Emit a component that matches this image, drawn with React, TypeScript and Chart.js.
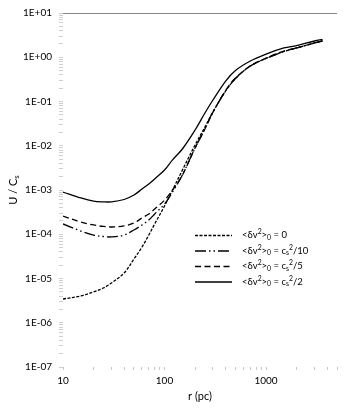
import React, { useEffect, useRef } from 'react';
import { Chart, registerables } from 'chart.js';

Chart.register(...registerables);

// r (pc)
const radii = [10, 15, 20, 25, 30, 40, 50, 60, 70, 80, 100, 120, 150, 200, 250, 300, 400, 500, 700, 1000, 1500, 2000, 3000, 3600];
// U / Cs for <δv²>0 = 0
const uZero = [3.44e-6, 4.03e-6, 4.96e-6, 6.1e-6, 7.9e-6, 1.33e-5, 2.76e-5, 5.15e-5, 9.6e-5, 1.71e-4, 4.35e-4, 1.0e-3, 2.83e-3, 1.04e-2, 2.66e-2, 5.8e-2, 0.173, 0.331, 0.634, 0.938, 1.35, 1.62, 2.10, 2.33];
// <δv²>0 = cs²/10
const uTenth = [1.71e-4, 1.18e-4, 9.6e-5, 8.9e-5, 8.7e-5, 9.6e-5, 1.25e-4, 1.62e-4, 2.1e-4, 2.87e-4, 4.83e-4, 9.0e-4, 2.18e-3, 8.9e-3, 2.39e-2, 5.8e-2, 0.173, 0.331, 0.634, 0.938, 1.35, 1.62, 2.10, 2.33];
// <δv²>0 = cs²/5
const uFifth = [2.58e-4, 1.89e-4, 1.62e-4, 1.5e-4, 1.46e-4, 1.54e-4, 1.8e-4, 2.33e-4, 2.87e-4, 3.72e-4, 5.9e-4, 1.0e-3, 2.18e-3, 8.9e-3, 2.39e-2, 5.7e-2, 0.178, 0.34, 0.634, 0.96, 1.38, 1.62, 2.10, 2.33];
// <δv²>0 = cs²/2
const uHalf = [9.0e-4, 6.6e-4, 5.6e-4, 5.4e-4, 5.4e-4, 6.1e-4, 7.7e-4, 1.05e-3, 1.37e-3, 1.78e-3, 2.83e-3, 4.8e-3, 8.45e-3, 2.27e-2, 5.5e-2, 0.108, 0.29, 0.502, 0.822, 1.18, 1.62, 1.84, 2.33, 2.52];

const seriesLabels = ['<δv²>₀ = 0', '<δv²>₀ = cₛ²/10', '<δv²>₀ = cₛ²/5', '<δv²>₀ = cₛ²/2'];
const seriesValues = [uZero, uTenth, uFifth, uHalf];
const seriesDash = [[3, 1.5], [11, 3, 1.5, 3, 1.5, 3], [6, 3.5], []];

const xTitle = 'r (pc)';
const yTitle = 'U / Cₛ';
const xMin = 10;
const xMax = 5000;
const yMin = 1e-7;
const yMax = 10;

const FONT = 'Lato, "Open Sans", sans-serif';

type Part = [string, number];
function parseRich(s: string): Part[] {
  const map: Record<string, [string, number]> = {
    '²': ['2', 1],
    '₀': ['0', -1],
    'ₛ': ['s', -1],
  };
  const parts: Part[] = [];
  for (const ch of s) {
    const m = map[ch];
    const t = m ? m[0] : ch;
    const mode = m ? m[1] : 0;
    const last = parts[parts.length - 1];
    if (last && last[1] === mode) last[0] += t;
    else parts.push([t, mode]);
  }
  return parts;
}

function richWidth(ctx: CanvasRenderingContext2D, parts: Part[], size: number) {
  let w = 0;
  for (const [t, m] of parts) {
    ctx.font = `${m === 0 ? size : size * 0.72}px ${FONT}`;
    w += ctx.measureText(t).width;
  }
  return w;
}

function drawRich(ctx: CanvasRenderingContext2D, x: number, y: number, parts: Part[], size: number) {
  let cx = x;
  for (const [t, m] of parts) {
    ctx.font = `${m === 0 ? size : size * 0.72}px ${FONT}`;
    const dy = m === 1 ? -size * 0.3 : m === -1 ? size * 0.28 : 0;
    ctx.fillText(t, cx, y + dy);
    cx += ctx.measureText(t).width;
  }
}

function logTicks(min: number, max: number) {
  const out: { value: number }[] = [];
  const e0 = Math.floor(Math.log10(min));
  const e1 = Math.ceil(Math.log10(max));
  for (let e = e0; e <= e1; e++) {
    for (let m = 1; m <= 9; m++) {
      const v = Number((m * Math.pow(10, e)).toPrecision(3));
      if (v >= min * 0.999 && v <= max * 1.001) out.push({ value: v });
    }
  }
  return out;
}

const isPow10 = (v: number) => Math.abs(Math.log10(v) - Math.round(Math.log10(v))) < 1e-6;

const overlayPlugin = {
  id: 'overlay',
  afterDraw(chart: any) {
    const ctx: CanvasRenderingContext2D = chart.ctx;
    const area = chart.chartArea;
    ctx.save();
    ctx.fillStyle = '#000';
    ctx.textBaseline = 'middle';
    ctx.textAlign = 'left';
    // legend
    const lx = area.left + 132;
    const ly = area.top + 222;
    chart.data.datasets.forEach((ds: any, i: number) => {
      const y = ly + i * 15.5;
      ctx.beginPath();
      ctx.setLineDash(ds.borderDash || []);
      ctx.lineWidth = 1.3;
      ctx.strokeStyle = '#000';
      ctx.moveTo(lx, y + 0.5);
      ctx.lineTo(lx + 37, y + 0.5);
      ctx.stroke();
      ctx.setLineDash([]);
      drawRich(ctx, lx + 47, y, parseRich(ds.label), 9.5);
    });
    // y title
    const parts = parseRich(yTitle);
    ctx.translate(13, (area.top + area.bottom) / 2);
    ctx.rotate(-Math.PI / 2);
    const w = richWidth(ctx, parts, 11);
    drawRich(ctx, -w / 2, 0, parts, 11);
    ctx.restore();
  },
};

export default function App() {
  const ref = useRef<HTMLCanvasElement>(null);
  useEffect(() => {
    if (!ref.current) return;
    const chart = new Chart(ref.current, {
      type: 'line',
      data: {
        datasets: seriesLabels.map((label, i) => ({
          label,
          data: radii.map((r, j) => ({ x: r, y: seriesValues[i][j] })),
          borderColor: '#000',
          borderWidth: 1.3,
          borderDash: seriesDash[i],
          pointRadius: 0,
          fill: false,
          tension: 0.35,
        })),
      },
      options: {
        animation: false,
        responsive: false,
        devicePixelRatio: 1,
        layout: { padding: { top: 13, right: 22, left: 0, bottom: 0 } },
        plugins: { legend: { display: false }, tooltip: { enabled: false } },
        scales: {
          x: {
            type: 'logarithmic',
            min: xMin,
            max: xMax,
            afterBuildTicks: (s: any) => { s.ticks = logTicks(xMin, xMax); },
            afterFit: (s: any) => { s.height = 43; },
            border: { display: false },
            grid: {
              drawOnChartArea: false,
              tickColor: '#c8c8c8',
              tickLength: 3,
            },
            ticks: {
              autoSkip: false,
              maxRotation: 0,
              padding: 5,
              color: '#000',
              font: { family: FONT, size: 10 },
              callback: (v: any) => (isPow10(Number(v)) ? String(Math.round(Number(v))) : ''),
            },
            title: {
              display: true,
              text: xTitle,
              color: '#000',
              font: { family: FONT, size: 11 },
              padding: { top: 0, bottom: 7 },
            },
          },
          y: {
            type: 'logarithmic',
            min: yMin,
            max: yMax,
            afterBuildTicks: (s: any) => { s.ticks = logTicks(yMin, yMax); },
            afterFit: (s: any) => { s.width = 63; },
            border: { display: false },
            grid: {
              color: (c: any) => (c.tick && Math.abs(c.tick.value - yMax) < 1e-9 ? '#878787' : 'rgba(0,0,0,0)'),
              tickColor: '#cfcfcf',
              tickLength: 4,
            },
            ticks: {
              autoSkip: false,
              padding: 7,
              color: '#000',
              font: { family: FONT, size: 10 },
              callback: (v: any) => {
                const n = Number(v);
                if (!isPow10(n)) return '';
                const e = Math.round(Math.log10(n));
                const a = Math.abs(e);
                return '1E' + (e < 0 ? '-' : '+') + (a < 10 ? '0' : '') + a;
              },
            },
          },
        },
      },
      plugins: [overlayPlugin],
    });
    return () => chart.destroy();
  }, []);
  return (
    <div style={{ position: 'fixed', left: 0, top: 0, width: 359, height: 410, background: '#fff' }}>
      <canvas ref={ref} width={359} height={410} style={{ width: 359, height: 410, display: 'block' }} />
    </div>
  );
}
